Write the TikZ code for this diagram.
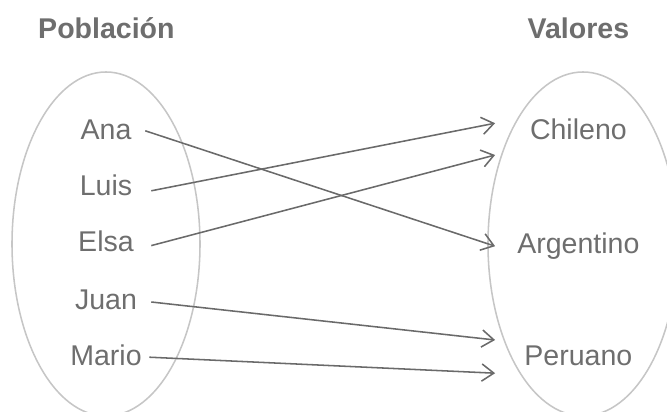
\documentclass[tikz,border=0pt]{standalone}
\usepackage{fontspec}
\setmainfont{Liberation Sans}
\usetikzlibrary{arrows.meta}
\definecolor{cText}{HTML}{6E6E6E}
\definecolor{cLine}{HTML}{6A6A6A}
\definecolor{cSet}{HTML}{C6C6C6}
\tikzset{
  elem/.style={text=cText, font=\fontsize{20.3}{24}\selectfont, inner sep=0pt, text height=0.716em, text depth=0pt},
  dom/.style={elem, minimum width=2.25cm},
  img/.style={elem, minimum width=4.15cm},
  head/.style={text=cText, font=\fontsize{20.3}{24}\selectfont\bfseries, inner sep=0pt},
  setline/.style={draw=cSet, line width=1.1pt},
  maps/.style={draw=cLine, line width=1.1pt, -{Straight Barb[length=3mm,width=4.3mm,line width=1.1pt]}}
}
\begin{document}
\begin{tikzpicture}
		\useasboundingbox (0,0) rectangle (16.675,10.3);
		% conjuntos
		\draw [setline] (2.65,4.2) ellipse [x radius=2.35, y radius=4.3];
		\draw [setline] (14.575,4.2) ellipse [x radius=2.375, y radius=4.3];
		\node [head] (poblacion) at (2.66,9.6) {Población};
		\node [head] (valores) at (14.46,9.6) {Valores};
		% elementos
		\node [dom] (ana) at (2.65,6.93) {Ana};
		\node [dom] (luis) at (2.65,5.53) {Luis};
		\node [dom] (elsa) at (2.65,4.13) {Elsa};
		\node [dom] (juan) at (2.65,2.68) {Juan};
		\node [dom] (mario) at (2.65,1.3) {Mario};
		\node [img] (chileno) at (14.46,6.93) {Chileno};
		\node [img] (argentino) at (14.46,4.1) {Argentino};
		\node [img] (peruano) at (14.46,1.3) {Peruano};
		% correspondencias
		\draw [maps] ([xshift=-0.15cm,yshift=0.1cm]ana.east) -- ([yshift=0.045cm]argentino.west);
		\draw [maps] ([yshift=0.0cm]luis.east) -- ([yshift=0.29cm]chileno.west);
		\draw [maps] ([yshift=0.03cm]elsa.east) -- ([yshift=-0.505cm]chileno.west);
		\draw [maps] ([yshift=0.07cm]juan.east) -- ([yshift=0.5cm]peruano.west);
		\draw [maps] ([xshift=-0.05cm,yshift=0.07cm]mario.east) -- ([yshift=-0.33cm]peruano.west);
\end{tikzpicture}
\end{document}
